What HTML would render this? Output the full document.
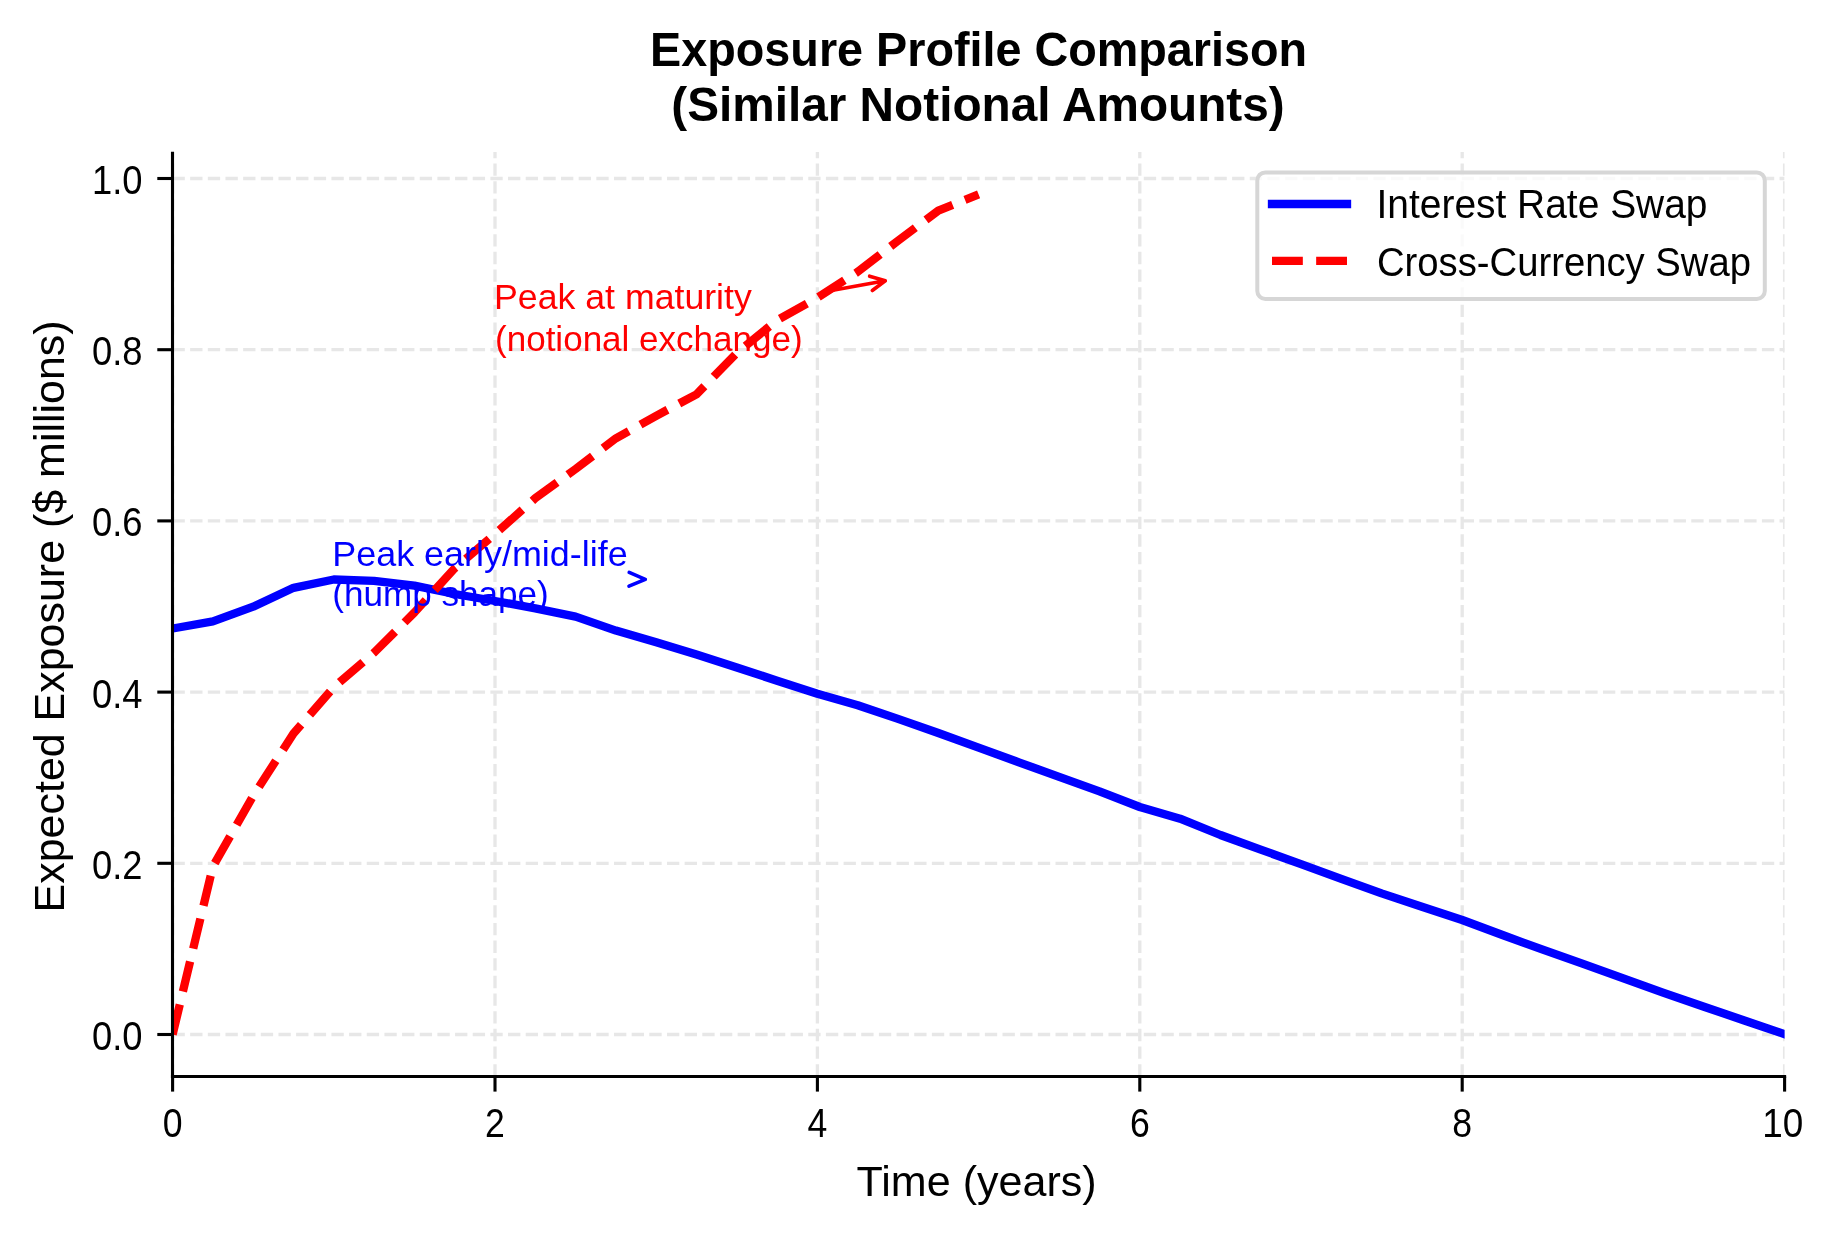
<!DOCTYPE html><html><head><meta charset="utf-8"><style>html,body{margin:0;padding:0;background:#fff;overflow:hidden}svg{display:block;will-change:transform}text{font-family:"Liberation Sans",sans-serif}</style></head><body>
<svg width="1834" height="1234" viewBox="0 0 1834 1234">
<rect width="1834" height="1234" fill="#fff"/>
<defs><clipPath id="ax"><rect x="172.5" y="151.9" width="1612.1" height="924.6"/></clipPath></defs>
<g clip-path="url(#ax)" stroke="#e7e7e7" stroke-width="3.33" stroke-dasharray="12.33 5.33" fill="none"><line x1="172.6" y1="1076.5" x2="172.6" y2="151.9"/><line x1="495.0" y1="1076.5" x2="495.0" y2="151.9"/><line x1="817.4" y1="1076.5" x2="817.4" y2="151.9"/><line x1="1139.8" y1="1076.5" x2="1139.8" y2="151.9"/><line x1="1462.2" y1="1076.5" x2="1462.2" y2="151.9"/><line x1="1784.6" y1="1076.5" x2="1784.6" y2="151.9"/><line x1="172.5" y1="1034.5" x2="1784.6" y2="1034.5"/><line x1="172.5" y1="863.3" x2="1784.6" y2="863.3"/><line x1="172.5" y1="692.1" x2="1784.6" y2="692.1"/><line x1="172.5" y1="520.9" x2="1784.6" y2="520.9"/><line x1="172.5" y1="349.7" x2="1784.6" y2="349.7"/><line x1="172.5" y1="178.5" x2="1784.6" y2="178.5"/></g>
<g clip-path="url(#ax)" fill="none" stroke-linejoin="round">
<polyline points="172.6,628.5 212.9,621.4 253.2,606.7 293.5,587.8 333.8,579.5 374.1,580.8 414.4,585.7 454.7,594.0 495.0,601.0 535.3,608.3 575.6,616.6 615.9,630.6 656.2,642.2 696.5,654.4 736.8,667.5 777.1,680.7 817.4,693.8 857.7,705.2 898.0,718.9 938.3,733.0 978.6,747.7 1018.9,762.3 1059.2,776.9 1099.5,791.4 1139.8,807.0 1180.1,818.7 1220.4,835.0 1260.7,849.6 1301.0,864.2 1341.3,878.8 1381.6,893.4 1421.9,906.7 1462.2,920.0 1502.5,935.0 1542.8,949.7 1583.1,963.9 1623.4,978.3 1663.7,992.8 1704.0,1006.7 1744.3,1020.5 1784.6,1034.2" stroke="#0000ff" stroke-width="8.33" stroke-linecap="square"/>
<polyline points="172.6,1034.5 212.9,866.5 253.2,795.8 293.5,733.5 333.8,687.2 374.1,652.6 414.4,612.5 454.7,568.3 495.0,534.0 535.3,498.2 575.6,469.0 615.9,438.3 656.2,415.8 696.5,394.3 736.8,353.0 777.1,320.2 817.4,297.7 857.7,271.8 898.0,240.7 938.3,210.6 978.6,194.4" stroke="#ff0000" stroke-width="8.33" stroke-dasharray="30.83 13.33" stroke-linecap="butt"/>
</g>
<g stroke="#000" stroke-width="3.1" fill="none" stroke-linecap="butt">
<line x1="172.5" y1="153.4" x2="172.5" y2="1076.5" stroke-linecap="square"/>
<line x1="172.5" y1="1076.5" x2="1784.6" y2="1076.5" stroke-linecap="square"/>
<line x1="157.3" y1="1034.5" x2="172.5" y2="1034.5"/>
<line x1="157.3" y1="863.3" x2="172.5" y2="863.3"/>
<line x1="157.3" y1="692.1" x2="172.5" y2="692.1"/>
<line x1="157.3" y1="520.9" x2="172.5" y2="520.9"/>
<line x1="157.3" y1="349.7" x2="172.5" y2="349.7"/>
<line x1="157.3" y1="178.5" x2="172.5" y2="178.5"/>
<line x1="172.6" y1="1076.5" x2="172.6" y2="1091.6"/>
<line x1="495.0" y1="1076.5" x2="495.0" y2="1091.6"/>
<line x1="817.4" y1="1076.5" x2="817.4" y2="1091.6"/>
<line x1="1139.8" y1="1076.5" x2="1139.8" y2="1091.6"/>
<line x1="1462.2" y1="1076.5" x2="1462.2" y2="1091.6"/>
<line x1="1784.6" y1="1076.5" x2="1784.6" y2="1091.6"/>
</g>
<g fill="#000" font-size="40.7">
<text x="142.5" y="1049.9" text-anchor="end" textLength="50.5" lengthAdjust="spacingAndGlyphs">0.0</text>
<text x="142.5" y="878.7" text-anchor="end" textLength="50.5" lengthAdjust="spacingAndGlyphs">0.2</text>
<text x="142.5" y="707.5" text-anchor="end" textLength="50.5" lengthAdjust="spacingAndGlyphs">0.4</text>
<text x="142.5" y="536.3" text-anchor="end" textLength="50.5" lengthAdjust="spacingAndGlyphs">0.6</text>
<text x="142.5" y="365.1" text-anchor="end" textLength="50.5" lengthAdjust="spacingAndGlyphs">0.8</text>
<text x="142.5" y="193.9" text-anchor="end" textLength="50.5" lengthAdjust="spacingAndGlyphs">1.0</text>
<text x="172.6" y="1136.5" text-anchor="middle" textLength="19.8" lengthAdjust="spacingAndGlyphs">0</text>
<text x="495.0" y="1136.5" text-anchor="middle" textLength="19.8" lengthAdjust="spacingAndGlyphs">2</text>
<text x="817.4" y="1136.5" text-anchor="middle" textLength="19.8" lengthAdjust="spacingAndGlyphs">4</text>
<text x="1139.8" y="1136.5" text-anchor="middle" textLength="19.8" lengthAdjust="spacingAndGlyphs">6</text>
<text x="1462.2" y="1136.5" text-anchor="middle" textLength="19.8" lengthAdjust="spacingAndGlyphs">8</text>
<text x="1782.8" y="1136.5" text-anchor="middle" textLength="41.0" lengthAdjust="spacingAndGlyphs">10</text>
</g>
<text x="976.6" y="1196.1" font-size="43" text-anchor="middle" textLength="240" lengthAdjust="spacingAndGlyphs">Time (years)</text>
<text transform="translate(63.6,616.4) rotate(-90)" x="0" y="0" font-size="43" text-anchor="middle" textLength="592" lengthAdjust="spacingAndGlyphs">Expected Exposure ($ millions)</text>
<g font-weight="bold" font-size="48.6" text-anchor="middle">
<text x="978.6" y="66.4" textLength="657" lengthAdjust="spacingAndGlyphs">Exposure Profile Comparison</text>
<text x="978" y="121" textLength="613.4" lengthAdjust="spacingAndGlyphs">(Similar Notional Amounts)</text>
</g>
<g font-size="34.7">
<text x="494" y="308.9" fill="#ff0000" textLength="257.8" lengthAdjust="spacingAndGlyphs">Peak at maturity</text>
<text x="495" y="350.6" fill="#ff0000" textLength="307.7" lengthAdjust="spacingAndGlyphs">(notional exchange)</text>
<text x="332.3" y="565.9" fill="#0000ff" textLength="295.3" lengthAdjust="spacingAndGlyphs">Peak early/mid-life</text>
<text x="332.3" y="606.4" fill="#0000ff" textLength="216.5" lengthAdjust="spacingAndGlyphs">(hump shape)</text>
</g>
<g fill="none" stroke-width="3.6" stroke-linecap="round" stroke-linejoin="round">
<path d="M826,291.5 L885.3,280.8 M869.6,276.2 L885.3,280.8 L872.3,290.5" stroke="#ff0000"/>
<path d="M629.2,572.4 L645.3,579.3 L629,586.2 M642,579.5 L645.3,579.3" stroke="#0000ff"/>
</g>
<rect x="1257.3" y="172.4" width="507.5" height="126.5" rx="8" ry="8" fill="#fff" fill-opacity="0.8" stroke="#d6d6d6" stroke-width="4.0"/>
<line x1="1272" y1="204" x2="1347" y2="204" stroke="#0000ff" stroke-width="8.33" stroke-linecap="square"/>
<line x1="1272" y1="260.9" x2="1347" y2="260.9" stroke="#ff0000" stroke-width="8.33" stroke-dasharray="30.83 13.33"/>
<g font-size="41">
<text x="1376.5" y="218.2" textLength="331" lengthAdjust="spacingAndGlyphs">Interest Rate Swap</text>
<text x="1377" y="276" textLength="374" lengthAdjust="spacingAndGlyphs">Cross-Currency Swap</text>
</g>
</svg></body></html>
